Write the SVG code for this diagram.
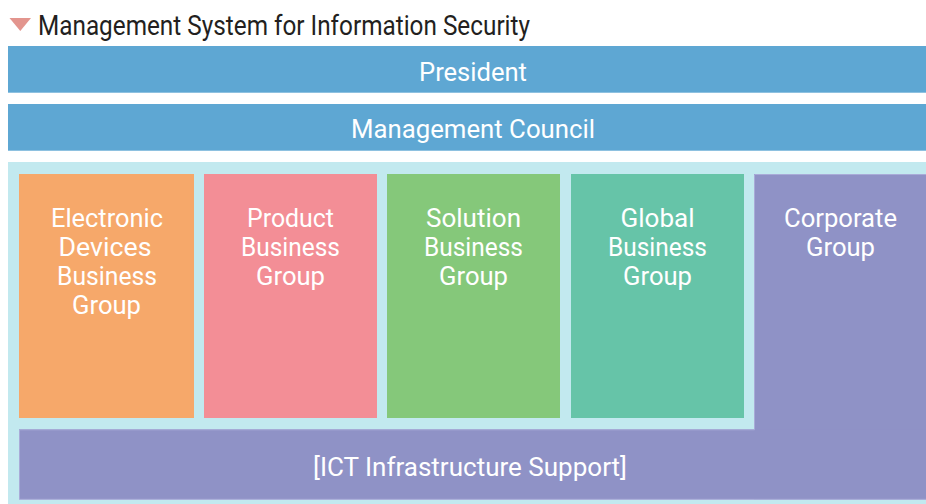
<svg xmlns="http://www.w3.org/2000/svg" width="926" height="504" viewBox="0 0 926 504">
<style>
.t{font-family:Roboto,"Open Sans","Liberation Sans",sans-serif;font-size:26px;font-weight:400;fill:#fff;text-anchor:middle}
.title{font-family:Roboto,"Open Sans","Liberation Sans",sans-serif;font-size:27px;fill:#231f20}
.bar{fill:#5ea7d3}
</style>
<rect width="926" height="504" fill="#fff"/>
<g id="title">
<polygon points="9.5,18 31,18 20.3,31" fill="#e3958e"/>
<text class="title" x="38" y="34.5" textLength="492" lengthAdjust="spacingAndGlyphs">Management System for Information Security</text>
</g>
<g id="president">
<rect class="bar" x="8" y="46" width="918" height="46.7"/>
<text class="t" x="473" y="81" textLength="108" lengthAdjust="spacingAndGlyphs">President</text>
</g>
<g id="management-council">
<rect class="bar" x="8" y="104" width="918" height="46.7"/>
<text class="t" x="473" y="138.3" textLength="244" lengthAdjust="spacingAndGlyphs">Management Council</text>
</g>
<g id="container">
<rect x="8" y="162" width="918" height="342" fill="#c2e9ef"/>
</g>
<g id="electronic-devices">
<rect x="19" y="174" width="175" height="244" fill="#f6a86a"/>
<text class="t" x="107" y="226.7" textLength="112" lengthAdjust="spacingAndGlyphs">Electronic</text>
<text class="t" x="105" y="255.7" textLength="93" lengthAdjust="spacingAndGlyphs">Devices</text>
<text class="t" x="107" y="284.5" textLength="100" lengthAdjust="spacingAndGlyphs">Business</text>
<text class="t" x="106.5" y="313.5" textLength="69" lengthAdjust="spacingAndGlyphs">Group</text>
</g>
<g id="product">
<rect x="204" y="174" width="173" height="244" fill="#f38e96"/>
<text class="t" x="290.5" y="226.7" textLength="87" lengthAdjust="spacingAndGlyphs">Product</text>
<text class="t" x="290.5" y="255.7" textLength="99" lengthAdjust="spacingAndGlyphs">Business</text>
<text class="t" x="290.5" y="284.5" textLength="69" lengthAdjust="spacingAndGlyphs">Group</text>
</g>
<g id="solution">
<rect x="387" y="174" width="173" height="244" fill="#85c87a"/>
<text class="t" x="473.5" y="226.7" textLength="95" lengthAdjust="spacingAndGlyphs">Solution</text>
<text class="t" x="473.5" y="255.7" textLength="99" lengthAdjust="spacingAndGlyphs">Business</text>
<text class="t" x="473.5" y="284.5" textLength="69" lengthAdjust="spacingAndGlyphs">Group</text>
</g>
<g id="global">
<rect x="571" y="174" width="173" height="244" fill="#66c4a8"/>
<text class="t" x="657.5" y="226.7" textLength="74" lengthAdjust="spacingAndGlyphs">Global</text>
<text class="t" x="657.5" y="255.7" textLength="99" lengthAdjust="spacingAndGlyphs">Business</text>
<text class="t" x="657.5" y="284.5" textLength="69" lengthAdjust="spacingAndGlyphs">Group</text>
</g>
<g id="corporate">
<rect x="754" y="174" width="172" height="325.3" fill="#8f92c6"/>
<text class="t" x="840.5" y="226.7" textLength="113" lengthAdjust="spacingAndGlyphs">Corporate</text>
<text class="t" x="840.5" y="255.7" textLength="69" lengthAdjust="spacingAndGlyphs">Group</text>
</g>
<g id="ict-infrastructure-support">
<rect x="19" y="429.3" width="907" height="70" fill="#8f92c6"/>
<path d="M926,499.3 H19.5 V429.8 H754.5 V174.5 H926" fill="none" stroke="#a9abd8" stroke-width="1"/>
<text class="t" x="470" y="476" textLength="314" lengthAdjust="spacingAndGlyphs">[ICT Infrastructure Support]</text>
</g>
<g id="connectors"/>
</svg>
